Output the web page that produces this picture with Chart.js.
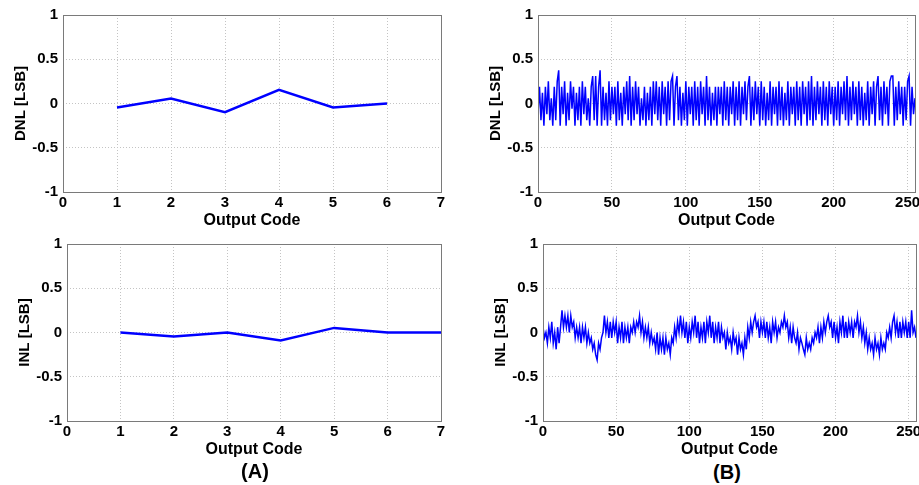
<!DOCTYPE html>
<html>
<head>
<meta charset="utf-8">
<script src="https://cdn.jsdelivr.net/npm/chart.js@4/dist/chart.umd.min.js"></script>
<style>
  html, body { margin: 0; padding: 0; background: #fff; width: 919px; height: 485px; overflow: hidden; }
  .panel { position: absolute; }
  .lbl { position: absolute; font: bold 20px "Liberation Sans", Arial, sans-serif; color: #000; transform: translate(-50%, -50%); white-space: nowrap; }
</style>
</head>
<body>
<div class="panel" id="pA1"><canvas id="cA1"></canvas></div>
<div class="panel" id="pA2"><canvas id="cA2"></canvas></div>
<div class="panel" id="pB1"><canvas id="cB1"></canvas></div>
<div class="panel" id="pB2"><canvas id="cB2"></canvas></div>
<div class="lbl" style="left:255px; top:471px;">(A)</div>
<div class="lbl" style="left:727px; top:472px;">(B)</div>
<script>
// ---------- data ----------
const codesA_DNL = [1, 2, 3, 4, 5, 6];
const dnlA = [-0.045, 0.056, -0.098, 0.154, -0.045, 0.0];
const codesA_INL = [1, 2, 3, 4, 5, 6, 7];
const inlA = [0.0, -0.045, 0.0, -0.09, 0.052, 0.0, 0.0];

const dnlB = [
  -0.12, 0.19, -0.19, 0.12, -0.25, 0.19, -0.12, 0.25, -0.19, 0.06, -0.25, 0.19, -0.19, 0.25, 0.375, -0.25,
  0.19, -0.12, 0.25, -0.25, 0.12, -0.19, 0.25, -0.06, 0.19, -0.25, 0.12, -0.19, 0.19, -0.25, 0.25, -0.12,
  0.19, -0.19, 0.06, -0.25, 0.19, 0.31, -0.19, 0.31, -0.25, 0.19, 0.375, -0.25, 0.19, -0.19, 0.12, -0.25,
  0.25, -0.19, 0.19, -0.12, 0.19, -0.25, 0.25, -0.19, 0.12, -0.25, 0.19, -0.12, 0.25, -0.19, 0.31, -0.25,
  0.19, -0.19, 0.25, -0.12, 0.19, -0.25, 0.06, -0.19, 0.19, -0.25, 0.12, -0.19, 0.19, -0.25, 0.25, -0.12,
  0.25, -0.19, 0.19, -0.25, 0.25, -0.12, 0.19, -0.25, 0.25, -0.19, 0.25, 0.31, -0.25, 0.19, 0.31, -0.19,
  0.19, -0.25, 0.12, -0.19, 0.25, -0.25, 0.19, -0.12, 0.19, -0.25, 0.25, -0.19, 0.19, -0.25, 0.25, -0.12,
  0.19, -0.25, 0.31, -0.19, 0.19, -0.25, 0.12, -0.19, 0.19, -0.25, 0.19, -0.12, 0.19, -0.25, 0.25, -0.19,
  0.19, -0.25, 0.19, -0.12, 0.25, -0.25, 0.19, -0.19, 0.25, -0.25, 0.19, -0.12, 0.25, -0.19, 0.19, 0.31,
  -0.25, 0.19, -0.19, 0.25, -0.12, 0.19, -0.25, 0.25, -0.19, 0.19, -0.25, 0.12, -0.19, 0.25, -0.25, 0.19,
  -0.12, 0.19, -0.25, 0.25, -0.19, 0.19, -0.25, 0.12, -0.19, 0.25, -0.25, 0.19, -0.12, 0.19, -0.25, 0.25,
  -0.19, 0.19, -0.25, 0.25, -0.12, 0.19, -0.25, 0.25, -0.19, 0.31, -0.25, 0.19, -0.19, 0.25, -0.12, 0.19,
  -0.25, 0.25, -0.19, 0.19, -0.25, 0.25, -0.12, 0.19, -0.25, 0.19, -0.19, 0.25, -0.25, 0.19, -0.12, 0.25,
  -0.19, 0.31, -0.25, 0.19, -0.19, 0.25, -0.12, 0.19, -0.25, 0.25, -0.19, 0.19, -0.25, 0.12, -0.19, 0.25,
  -0.25, 0.19, -0.12, 0.25, -0.25, 0.19, 0.31, -0.19, 0.19, -0.25, 0.25, -0.12, 0.19, -0.25, 0.25, 0.31,
  0.31, -0.25, 0.19, -0.19, 0.25, -0.12, 0.19, -0.25, 0.19, -0.19, 0.25, 0.31, -0.25, 0.19, -0.12, 0.06
];

const inlB = [
  0.06, -0.06, 0.0, -0.12, 0.06, -0.06, 0.12, -0.12, 0.0, -0.19, 0.06, -0.12, 0.06, 0.25, 0.06, 0.19,
  0.06, 0.19, 0.0, 0.19, 0.06, 0.12, -0.06, 0.06, -0.06, 0.06, -0.12, 0.06, -0.06, 0.06, -0.12, 0.0,
  -0.12, -0.06, -0.19, -0.12, -0.25, -0.31, -0.12, -0.19, -0.06, 0.0, 0.19, 0.0, 0.12, -0.06, 0.12, -0.06,
  0.12, 0.0, 0.12, -0.12, 0.06, -0.06, 0.12, -0.12, 0.06, -0.06, 0.06, -0.12, 0.06, 0.0, 0.12, 0.0,
  0.12, 0.06, 0.19, 0.0, 0.12, -0.06, 0.06, -0.06, 0.06, -0.12, 0.0, -0.12, -0.06, -0.19, 0.0, -0.25,
  -0.06, -0.19, -0.06, -0.25, -0.06, -0.19, -0.12, -0.25, -0.06, -0.12, 0.06, -0.06, 0.12, 0.0, 0.19, 0.0,
  0.12, -0.06, 0.12, -0.12, 0.06, -0.06, 0.12, 0.0, 0.19, -0.06, 0.12, -0.12, 0.06, -0.06, 0.12, -0.12,
  0.12, 0.0, 0.19, -0.06, 0.12, -0.12, 0.06, -0.06, 0.12, -0.12, 0.06, -0.06, 0.0, -0.19, 0.0, -0.12,
  -0.06, -0.19, 0.0, -0.12, -0.06, -0.25, -0.06, -0.19, -0.12, -0.25, -0.06, -0.19, 0.06, -0.06, 0.12, 0.0,
  0.12, 0.19, 0.06, 0.12, -0.06, 0.12, 0.0, 0.12, -0.06, 0.12, -0.06, 0.06, -0.12, 0.12, 0.0, 0.12,
  -0.06, 0.06, 0.0, 0.12, 0.06, 0.19, 0.06, 0.12, -0.06, 0.06, -0.12, 0.06, -0.06, -0.12, 0.0, -0.19,
  -0.06, -0.12, -0.19, -0.25, -0.06, -0.19, -0.12, -0.19, -0.06, -0.12, 0.0, -0.06, 0.06, -0.12, 0.06, -0.06,
  0.12, 0.0, 0.12, 0.19, 0.06, 0.12, -0.06, 0.12, -0.06, 0.06, -0.12, 0.12, 0.0, 0.19, -0.06, 0.12,
  -0.06, 0.12, 0.0, 0.12, -0.06, 0.12, 0.06, 0.19, 0.0, 0.12, -0.06, 0.06, -0.12, 0.0, -0.19, -0.06,
  -0.19, -0.12, -0.25, -0.06, -0.19, -0.12, -0.25, -0.06, -0.19, -0.12, -0.19, 0.0, -0.06, 0.06, -0.06, 0.12,
  0.19, 0.0, 0.12, -0.06, 0.12, -0.06, 0.12, 0.0, 0.12, -0.06, 0.12, -0.06, 0.25, 0.0, 0.06, -0.06
];

const yTickValues = [-1, -0.5, 0, 0.5, 1];
const yTickLabels = ['-1', '-0.5', '0', '0.5', '1'];
const xTicksA = [0, 1, 2, 3, 4, 5, 6, 7];
const xTicksB = [0, 50, 100, 150, 200, 250];
const xLabel = 'Output Code';
const yLabelDNL = 'DNL [LSB]';
const yLabelINL = 'INL [LSB]';

// ---------- rendering ----------
const FONT = '"Liberation Sans", Arial, Helvetica, sans-serif';
const Y_W = 60, X_H = 38, PAD_T = 16, PAD_R = 10;

const framePlugin = {
  id: 'frame',
  afterDatasetsDraw(chart) {
    const a = chart.chartArea, ctx = chart.ctx;
    ctx.save();
    ctx.strokeStyle = '#7a7a7a';
    ctx.lineWidth = 1;
    ctx.strokeRect(Math.round(a.left) + 0.5, Math.round(a.top) + 0.5,
                   Math.round(a.right - a.left), Math.round(a.bottom - a.top));
    ctx.restore();
  }
};

function makeChart(id, panelId, area, xs, ys, xMax, xTicks, yTitle, lineW) {
  const panel = document.getElementById(panelId);
  const w = Y_W + (area.r - area.l) + PAD_R;
  const h = PAD_T + (area.b - area.t) + X_H;
  panel.style.left = (area.l - Y_W) + 'px';
  panel.style.top = (area.t - PAD_T) + 'px';
  const cv = document.getElementById(id);
  cv.width = w; cv.height = h;
  cv.style.width = w + 'px'; cv.style.height = h + 'px';

  const gridCommon = { color: '#c4c4c4', lineWidth: 1, drawTicks: false };
  new Chart(cv, {
    type: 'line',
    data: {
      datasets: [{
        data: xs.map((x, i) => ({ x: x, y: ys[i] })),
        borderColor: '#0000ff',
        borderWidth: lineW,
        pointRadius: 0,
        tension: 0,
        fill: false
      }]
    },
    options: {
      responsive: false,
      animation: false,
      devicePixelRatio: 1,
      layout: { padding: { top: PAD_T, right: PAD_R, left: 0, bottom: 0 } },
      plugins: { legend: { display: false }, tooltip: { enabled: false } },
      scales: {
        x: {
          type: 'linear',
          min: 0, max: xMax,
          afterBuildTicks: s => { s.ticks = xTicks.map(v => ({ value: v })); },
          afterFit: s => { s.height = X_H; },
          grid: gridCommon,
          border: { display: false, dash: [1, 2] },
          ticks: { color: '#000', font: { family: FONT, size: 15, weight: 'bold' }, padding: 2, maxRotation: 0, autoSkip: false },
          title: { display: true, text: xLabel, color: '#000', font: { family: FONT, size: 16, weight: 'bold' }, padding: { top: 1, bottom: 0 } }
        },
        y: {
          type: 'linear',
          min: -1, max: 1,
          afterBuildTicks: s => { s.ticks = yTickValues.map(v => ({ value: v })); },
          afterFit: s => { s.width = Y_W; },
          grid: gridCommon,
          border: { display: false, dash: [1, 2] },
          ticks: {
            color: '#000', font: { family: FONT, size: 15, weight: 'bold' }, padding: 5,
            callback: (v) => { const k = yTickValues.indexOf(v); return k >= 0 ? yTickLabels[k] : ''; }
          },
          title: { display: true, text: yTitle, color: '#000', font: { family: FONT, size: 15, weight: 'bold' }, padding: { top: 9, bottom: 0 } }
        }
      }
    },
    plugins: [framePlugin]
  });
}

const codesB = dnlB.map((_, i) => i);
makeChart('cA1', 'pA1', { l: 63, r: 441, t: 15, b: 192 }, codesA_DNL, dnlA, 7, xTicksA, yLabelDNL, 2.5);
makeChart('cA2', 'pA2', { l: 67, r: 441, t: 244, b: 421 }, codesA_INL, inlA, 7, xTicksA, yLabelINL, 2.5);
makeChart('cB1', 'pB1', { l: 538, r: 915, t: 15, b: 192 }, codesB, dnlB, 255, xTicksB, yLabelDNL, 1.5);
makeChart('cB2', 'pB2', { l: 543, r: 916, t: 244, b: 421 }, codesB, inlB, 255, xTicksB, yLabelINL, 1.5);
</script>
</body>
</html>
